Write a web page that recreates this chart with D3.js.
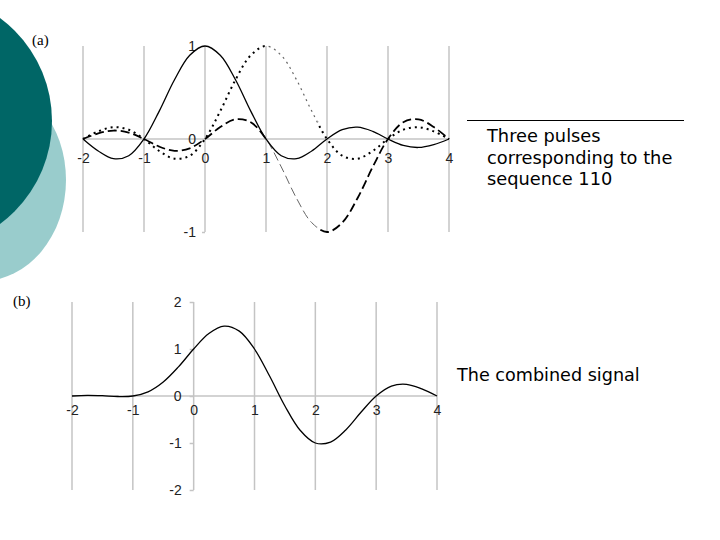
<!DOCTYPE html>
<html><head><meta charset="utf-8">
<script src="https://cdn.jsdelivr.net/npm/d3@7"></script>
<style>body{margin:0;background:#fff}svg{display:block}</style>
</head><body>
<svg id="c" width="720" height="540"></svg>
<script>
// ---- data ----
const tValues = [-2,-1.75,-1.5,-1.25,-1,-0.75,-0.5,-0.25,0,0.25,0.5,0.75,1,1.25,1.5,1.75,2,2.25,2.5,2.75,3,3.25,3.5,3.75,4];
const pulse0 = [0,-0.129,-0.212,-0.180,0,0.300,0.637,0.900,1,0.900,0.637,0.300,0,-0.180,-0.212,-0.129,0,0.100,0.127,0.082,0,-0.069,-0.091,-0.060,0];
const pulse1 = [0,0.082,0.127,0.100,0,-0.129,-0.212,-0.180,0,0.300,0.637,0.900,1,0.900,0.637,0.300,0,-0.180,-0.212,-0.129,0,0.100,0.127,0.082,0];
const pulse2 = [0,0.060,0.091,0.069,0,-0.082,-0.127,-0.100,0,0.129,0.212,0.180,0,-0.300,-0.637,-0.900,-1,-0.900,-0.637,-0.300,0,0.180,0.212,0.129,0];
const combined = [0,0.013,0.006,-0.011,0,0.089,0.298,0.620,1,1.329,1.486,1.380,1,0.420,-0.212,-0.729,-1,-0.980,-0.722,-0.347,0,0.211,0.248,0.151,0];
const xTicks = [-2,-1,0,1,2,3,4];
const yTicksA = [-1,0,1];
const yTicksB = [-2,-1,0,1,2];
const labelA = "(a)", labelB = "(b)";
const textA = ["Three pulses","corresponding to the","sequence 110"];
const textB = "The combined signal";

const svg = d3.select("#c");
const fmt = d => String(d);

// ---- background decoration ----
svg.append("ellipse").attr("cx",-18).attr("cy",180).attr("rx",84).attr("ry",101).attr("fill","#99cccc");
svg.append("circle").attr("cx",-76).attr("cy",121).attr("r",128).attr("fill","#006666");

function styleAxis(a){
  a.select(".domain").remove();
  a.attr("font-size",null).attr("font-family",null);
  a.selectAll("text").style("font-family","'Liberation Sans',Arial,sans-serif")
    .style("font-size","14px").style("fill","#222");
  a.selectAll("line").attr("stroke","#c4c4c4").attr("stroke-width",1.5);
}

// ---- chart (a) ----
const xa = d3.scaleLinear().domain([-2,4]).range([83,449]);
const ya = d3.scaleLinear().domain([-1,1]).range([232,46]);
const ga = svg.append("g");
ga.selectAll("line.grid").data(xTicks).join("line")
  .attr("x1",d=>xa(d)).attr("x2",d=>xa(d)).attr("y1",ya(1)).attr("y2",ya(-1))
  .attr("stroke","#c4c4c4").attr("stroke-width",1.5);
ga.append("line").attr("x1",xa(-2)).attr("x2",xa(4)).attr("y1",ya(0)).attr("y2",ya(0))
  .attr("stroke","#c4c4c4").attr("stroke-width",1.5);
styleAxis(ga.append("g").attr("transform",`translate(0,${ya(0)})`)
  .call(d3.axisBottom(xa).tickValues(xTicks).tickSize(0).tickPadding(14).tickFormat(fmt)));
styleAxis(ga.append("g").attr("transform",`translate(${xa(0)},0)`)
  .call(d3.axisLeft(ya).tickValues(yTicksA).tickSize(3).tickPadding(6).tickFormat(fmt)));

const lineA = d3.line().x((d,i)=>xa(tValues[i])).y(d=>ya(d)).curve(d3.curveCatmullRom);
const defs = svg.append("defs");
defs.append("clipPath").attr("id","thin").append("rect")
  .attr("x",xa(1)).attr("y",0).attr("width",xa(1.85)-xa(1)).attr("height",300);
defs.append("clipPath").attr("id","thick").append("path")
  .attr("d",`M0,0H${xa(1)}V300H0Z M${xa(1.85)},0H720V300H${xa(1.85)}Z`);

function pulse(data, dash, w, thinW){
  ga.append("path").attr("d",lineA(data)).attr("fill","none").attr("stroke","#000")
    .attr("stroke-width",w).attr("stroke-dasharray",dash).attr("clip-path","url(#thick)");
  ga.append("path").attr("d",lineA(data)).attr("fill","none").attr("stroke","#666")
    .attr("stroke-width",thinW).attr("stroke-dasharray",dash).attr("clip-path","url(#thin)");
}
pulse(pulse2,"9,4",1.8,1);
pulse(pulse1,"2,4",2,1.2);
ga.append("path").attr("d",lineA(pulse0)).attr("fill","none").attr("stroke","#000").attr("stroke-width",1.3);

// ---- chart (b) ----
const xb = d3.scaleLinear().domain([-2,4]).range([72,437]);
const yb = d3.scaleLinear().domain([-2,2]).range([490,302]);
const gb = svg.append("g");
gb.selectAll("line.grid").data(xTicks).join("line")
  .attr("x1",d=>xb(d)).attr("x2",d=>xb(d)).attr("y1",yb(2)).attr("y2",yb(-2))
  .attr("stroke","#c4c4c4").attr("stroke-width",1.5);
gb.append("line").attr("x1",xb(-2)).attr("x2",xb(4)).attr("y1",yb(0)).attr("y2",yb(0))
  .attr("stroke","#c4c4c4").attr("stroke-width",1.5);
styleAxis(gb.append("g").attr("transform",`translate(0,${yb(0)})`)
  .call(d3.axisBottom(xb).tickValues(xTicks).tickSize(0).tickPadding(9).tickFormat(fmt)));
styleAxis(gb.append("g").attr("transform",`translate(${xb(0)},0)`)
  .call(d3.axisLeft(yb).tickValues(yTicksB).tickSize(4).tickPadding(8).tickFormat(fmt)));
const lineB = d3.line().x((d,i)=>xb(tValues[i])).y(d=>yb(d)).curve(d3.curveCatmullRom);
gb.append("path").attr("d",lineB(combined)).attr("fill","none").attr("stroke","#000").attr("stroke-width",1.3);

// ---- labels ----
svg.append("text").attr("x",32).attr("y",45).text(labelA)
  .attr("font-family","'Liberation Serif','Times New Roman',serif").attr("font-size",15);
svg.append("text").attr("x",13).attr("y",306).text(labelB)
  .attr("font-family","'Liberation Serif','Times New Roman',serif").attr("font-size",15);
svg.append("line").attr("x1",467).attr("x2",684).attr("y1",120.5).attr("y2",120.5).attr("stroke","#000").attr("stroke-width",1);
svg.append("g").selectAll("text").data(textA).join("text")
  .attr("x",487).attr("y",(d,i)=>142+i*21.5).text(d=>d)
  .attr("font-family","'DejaVu Sans',Verdana,sans-serif").attr("font-size",17.8);
svg.append("text").attr("x",457).attr("y",381).text(textB)
  .attr("font-family","'DejaVu Sans',Verdana,sans-serif").attr("font-size",17.6);
</script>
</body></html>
